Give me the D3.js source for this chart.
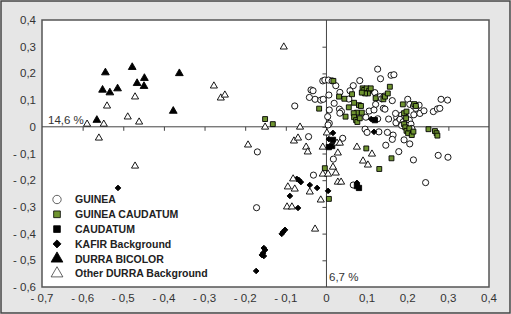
<!DOCTYPE html>
<html>
<head>
<meta charset="utf-8">
<script src="https://cdn.jsdelivr.net/npm/d3@7"></script>
<style>
  body { margin: 0; background: #fff; }
  svg { display: block; }
  text { font-family: "Liberation Sans", Arial, sans-serif; }
</style>
</head>
<body>
<script>
// Axis tick values
var xTicks = [-0.7, -0.6, -0.5, -0.4, -0.3, -0.2, -0.1, 0, 0.1, 0.2, 0.3, 0.4];
var yTicks = [-0.6, -0.5, -0.4, -0.3, -0.2, -0.1, 0, 0.1, 0.2, 0.3, 0.4];

// Axis inertia labels
var axis1Label = "14,6 %";
var axis2Label = "6,7 %";

// Group points [axis1, axis2]
var guinea = [
  [0.126,0.216],[0.133,0.180],[0.159,0.193],[0.166,0.195],[0.082,0.173],[0.066,0.154],
  [0.058,0.135],[0.033,0.129],[-0.009,0.172],[-0.004,0.175],[0.005,0.175],[0.014,0.172],
  [0.023,0.154],[-0.038,0.138],[-0.033,0.135],[-0.042,0.110],[-0.028,0.103],[-0.014,0.100],
  [-0.008,0.103],[0.006,0.119],[0.019,0.088],[-0.078,0.078],[0.007,0.063],[0.003,0.038],
  [0.007,0.013],[0.004,0.007],[0.032,0.066],[0.037,0.057],[0.033,0.051],[0.055,0.104],
  [0.119,0.128],[0.124,0.110],[0.132,0.113],[0.136,0.105],[0.142,0.115],[0.162,0.098],
  [0.121,0.084],[0.105,0.059],[0.117,0.063],[0.140,0.069],[0.144,0.066],[0.097,0.036],
  [0.126,0.030],[0.153,0.029],[0.173,0.034],[0.178,0.023],[0.171,0.015],[0.200,0.103],
  [0.205,0.084],[0.214,0.078],[0.228,0.081],[0.220,0.069],[0.185,0.044],[0.181,0.028],
  [0.189,0.019],[0.197,0.015],[0.204,0.025],[0.208,0.010],[0.210,-0.006],[0.282,0.103],
  [0.298,0.100],[0.263,0.057],[0.273,0.067],[0.279,0.069],[0.095,-0.009],[0.100,-0.021],
  [0.129,-0.019],[0.150,-0.021],[0.164,-0.031],[0.162,-0.047],[0.191,-0.049],[0.205,-0.064],
  [0.146,-0.069],[0.178,-0.093],[0.214,-0.124],[0.275,-0.107],[0.299,-0.114],[0.017,-0.121],
  [-0.044,-0.037],[-0.170,-0.094],[0.040,-0.043],[-0.032,-0.181],[0.066,-0.218],[0.244,-0.209],
  [-0.172,-0.303],[0.193,0.040],[0.215,0.045],[0.200,-0.010],[0.185,0.005],[0.170,0.050],
  [0.230,0.050],[0.240,0.060]
];
var guineaCaudatum = [
  [-0.151,0.029],[-0.132,0.010],[-0.018,0.068],[0.017,0.172],[0.031,0.113],[0.044,0.105],
  [0.055,0.073],[0.047,0.038],[0.063,0.122],[0.068,0.090],[0.075,0.053],[0.080,0.081],
  [0.085,0.078],[0.087,0.053],[0.067,0.051],[0.068,0.036],[0.073,0.025],[0.076,0.018],
  [0.082,0.032],[0.089,0.144],[0.093,0.138],[0.099,0.144],[0.105,0.135],[0.102,0.125],
  [0.095,0.125],[0.087,0.128],[0.109,0.144],[0.121,0.107],[0.140,0.103],[0.144,0.113],
  [0.151,0.125],[0.156,0.150],[0.188,0.084],[0.191,0.051],[0.197,0.057],[0.196,0.032],
  [0.191,0.010],[0.194,-0.002],[0.197,-0.015],[0.201,-0.024],[0.210,-0.031],[0.204,-0.006],
  [0.214,-0.018],[0.216,0.085],[0.220,0.078],[0.251,-0.009],[0.267,-0.016],[0.271,-0.024],
  [0.273,-0.033],[0.098,-0.081],[0.160,-0.118],[-0.004,-0.155],[0.006,-0.270],[0.130,-0.158]
];
var caudatum = [
  [0.006,-0.076],[0.014,-0.072],[0.075,-0.222],[0.080,-0.229],[0.016,-0.049],[0.119,0.025]
];
var kafir = [
  [-0.513,-0.229],[-0.173,-0.540],[-0.073,-0.195],[-0.068,-0.199],[-0.063,-0.207],[-0.090,-0.259],
  [-0.070,-0.304],[-0.041,-0.218],[-0.023,-0.229],[0.004,-0.240],[0.075,-0.210],[-0.107,-0.394],
  [-0.102,-0.386],[-0.110,-0.401],[-0.154,-0.454],[-0.151,-0.461],[-0.156,-0.473],[-0.154,-0.484],
  [-0.159,-0.480],[0.016,-0.023],[0.006,-0.046],[0.117,-0.019],[0.110,0.029]
];
var durraBicolor = [
  [-0.544,0.203],[-0.551,0.138],[-0.533,0.128],[-0.514,0.143],[-0.478,0.223],[-0.466,0.163],
  [-0.448,0.182],[-0.449,0.152],[-0.362,0.200],[-0.377,0.059],[-0.565,0.025]
];
var otherDurra = [
  [-0.589,0.010],[-0.548,0.010],[-0.540,0.078],[-0.560,-0.042],[-0.489,0.037],[-0.471,0.112],
  [-0.461,0.018],[-0.277,0.153],[-0.260,0.108],[-0.250,0.119],[-0.193,-0.068],[-0.105,0.299],
  [-0.151,-0.001],[-0.065,-0.001],[-0.080,-0.053],[-0.070,-0.042],[-0.050,-0.076],[-0.046,-0.094],
  [-0.009,-0.076],[0.001,-0.023],[0.026,-0.061],[0.033,-0.061],[0.028,-0.098],[0.075,-0.076],
  [0.112,-0.102],[-0.471,-0.147],[0.016,-0.151],[-0.009,-0.177],[0.004,-0.177],[0.023,-0.173],
  [0.028,-0.207],[0.036,-0.207],[0.090,-0.128],[0.102,-0.143],[-0.082,-0.195],[-0.095,-0.225],
  [-0.078,-0.233],[-0.041,-0.244],[-0.014,-0.274],[-0.097,-0.300],[-0.085,-0.300],[-0.028,-0.383]
];

var legendNames = ["GUINEA", "GUINEA CAUDATUM", "CAUDATUM", "KAFIR Background", "DURRA BICOLOR", "Other DURRA Background"];

var svgWidth = 511, svgHeight = 314;
var plot = { left: 42, top: 20, right: 489, bottom: 287 };

var svg = d3.select("body").append("svg")
  .attr("width", svgWidth)
  .attr("height", svgHeight);

// Grey frame
svg.append("rect")
  .attr("x", 1).attr("y", 1)
  .attr("width", svgWidth - 2).attr("height", svgHeight - 2)
  .attr("fill", "#e6e6e6")
  .attr("stroke", "#444").attr("stroke-width", 1.5);

svg.append("rect")
  .attr("x", plot.left).attr("y", plot.top)
  .attr("width", plot.right - plot.left).attr("height", plot.bottom - plot.top)
  .attr("fill", "#fff")
  .attr("stroke", "#555").attr("stroke-width", 1.5);

var x = d3.scaleLinear().domain([-0.7, 0.4]).range([plot.left, plot.right]);
var y = d3.scaleLinear().domain([-0.6, 0.4]).range([plot.bottom, plot.top]);

var fmt = function(d) {
  if (Math.abs(d) < 1e-9) return "0";
  var s = Math.abs(d).toFixed(1).replace(".", ",");
  return d < 0 ? "- " + s : s;
};

// Outer tick labels
svg.append("g").selectAll("text").data(yTicks).join("text")
  .attr("x", 36).attr("y", function(d) { return y(d) + 4; })
  .attr("text-anchor", "end")
  .attr("font-size", 11.5).attr("fill", "#333")
  .text(fmt);

svg.append("g").selectAll("text").data(xTicks).join("text")
  .attr("x", function(d) { return x(d); }).attr("y", 302)
  .attr("text-anchor", "middle")
  .attr("font-size", 11.5).attr("fill", "#333")
  .text(fmt);

// Axes through the origin
var xAxis = d3.axisBottom(x).tickValues(xTicks.slice(1, -1)).tickSize(4).tickFormat("");
var yAxis = d3.axisLeft(y).tickValues(yTicks.slice(1, -1)).tickSize(4).tickFormat("");

var gx = svg.append("g").attr("transform", "translate(0," + y(0) + ")").call(xAxis);
var gy = svg.append("g").attr("transform", "translate(" + x(0) + ",0)").call(yAxis);
[gx, gy].forEach(function(g) {
  g.select(".domain").remove();
  g.selectAll("line").attr("stroke", "#444");
});
svg.append("line")
  .attr("x1", plot.left).attr("x2", plot.right)
  .attr("y1", y(0)).attr("y2", y(0))
  .attr("stroke", "#444").attr("stroke-width", 1);
svg.append("line")
  .attr("x1", x(0)).attr("x2", x(0))
  .attr("y1", plot.top).attr("y2", plot.bottom)
  .attr("stroke", "#444").attr("stroke-width", 1);

svg.append("text").attr("x", 48).attr("y", 124)
  .attr("font-size", 11.5).attr("fill", "#333").text(axis1Label);
svg.append("text").attr("x", 329).attr("y", 281)
  .attr("font-size", 11.5).attr("fill", "#333").text(axis2Label);

// Marker styles per group (rot = rotate the symbol, for the kafir diamond)
var styles = [
  { data: guinea, type: d3.symbolCircle, size: 30, fill: "#fff", rot: 0 },
  { data: guineaCaudatum, type: d3.symbolSquare, size: 24, fill: "#6f9430", rot: 0 },
  { data: caudatum, type: d3.symbolSquare, size: 28, fill: "#000", rot: 0 },
  { data: kafir, type: d3.symbolSquare, size: 16, fill: "#000", rot: 45 },
  { data: durraBicolor, type: d3.symbolTriangle, size: 26, fill: "#000", rot: 0 },
  { data: otherDurra, type: d3.symbolTriangle, size: 22, fill: "#fff", rot: 0 }
];

styles.forEach(function(s) {
  svg.append("g").selectAll("path").data(s.data).join("path")
    .attr("transform", function(d) {
      return "translate(" + x(d[0]) + "," + y(d[1]) + ") rotate(" + s.rot + ")";
    })
    .attr("d", d3.symbol().type(s.type).size(s.size))
    .attr("fill", s.fill)
    .attr("stroke", "#000").attr("stroke-width", 0.9);
});

// Legend
var legendSizes = [55, 45, 45, 32, 60, 60];
var legend = svg.append("g");
legendNames.forEach(function(name, i) {
  var cy = 199.5 + i * 14.8;
  legend.append("path")
    .attr("transform", "translate(57," + cy + ") rotate(" + styles[i].rot + ")")
    .attr("d", d3.symbol().type(styles[i].type).size(legendSizes[i]))
    .attr("fill", styles[i].fill)
    .attr("stroke", i == 0 || i == 5 ? "#222" : "#000")
    .attr("stroke-width", i == 0 || i == 5 ? 0.7 : 0.8);
  legend.append("text")
    .attr("x", 75).attr("y", cy + 3.8)
    .attr("font-size", 10.5).attr("font-weight", "bold").attr("fill", "#222")
    .text(name);
});
</script>
</body>
</html>
